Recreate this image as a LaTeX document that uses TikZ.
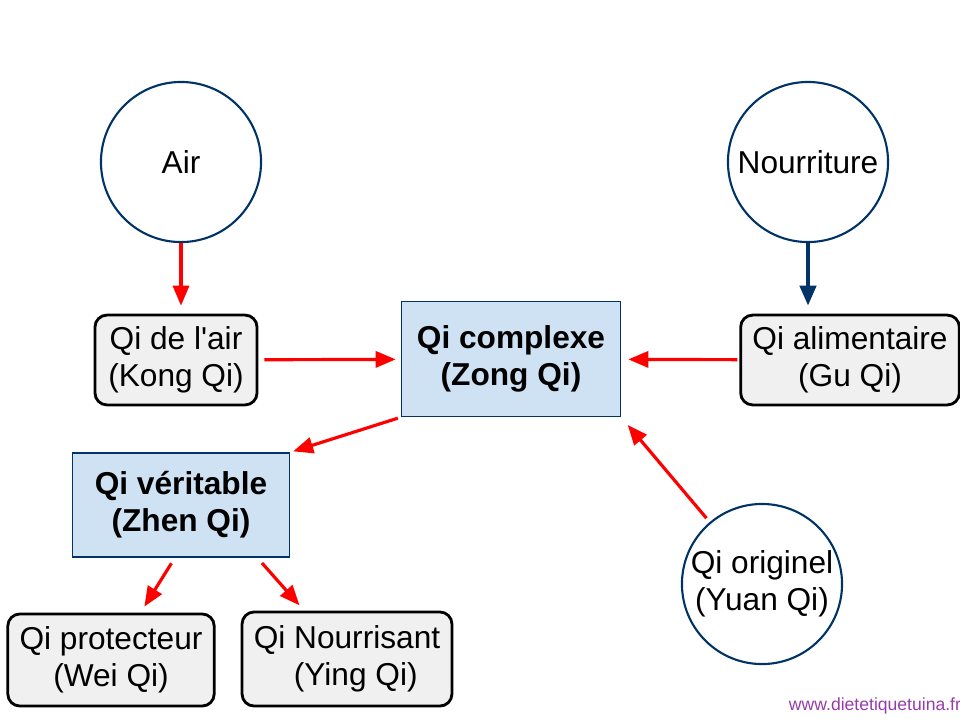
\documentclass[tikz,border=0pt]{standalone}
\usepackage{fontspec}
\setmainfont{Liberation Sans}
\usetikzlibrary{arrows.meta}
\definecolor{boxblue}{RGB}{207,226,243}
\definecolor{darkblue}{RGB}{0,51,102}
\definecolor{softgray}{RGB}{240,240,240}
\definecolor{webpurple}{RGB}{150,60,170}
\tikzstyle{source}=[circle, draw=darkblue, semithick, minimum size=1.6cm, inner sep=0pt, align=center]
\tikzstyle{qi}=[draw, thick, rounded corners=0.12cm, fill=softgray, align=center]
\tikzstyle{main}=[draw=darkblue, fill=boxblue, align=center, font=\bfseries\fontsize{9}{10.5}\selectfont]
\tikzstyle{arrow}=[-{Triangle[length=0.2cm,width=0.16cm]}, red, line width=0.9pt]
\tikzstyle{bluearrow}=[-{Triangle[length=0.2cm,width=0.16cm]}, darkblue, line width=1.2pt]

\begin{document}
\begin{tikzpicture}[x=0.01cm, y=-0.01cm, font=\fontsize{9}{10.5}\selectfont]
      \useasboundingbox (0,0) rectangle (960,720);

      \node[source] (air) at (181,162) {Air};
      \node[source] (food) at (808,162) {Nourriture};
      \node[source] (yuan) at (762,584) {Qi originel\\(Yuan Qi)};
      \node[qi, minimum width=1.62cm, minimum height=0.80cm] (kong) at (176,360) {Qi de l\textquotesingle air\\(Kong Qi)};
      \node[qi, minimum width=2.01cm, minimum height=0.81cm] (gu) at (850,360) {Qi alimentaire\\(Gu Qi)};
      \node[main, minimum width=2.19cm, minimum height=1.15cm] (zong) at (511,359) {Qi complexe\\(Zong Qi)};
      \node[main, minimum width=2.17cm, minimum height=1.04cm] (zhen) at (181,505) {Qi véritable\\(Zhen Qi)};
      \node[qi, minimum width=1.98cm, minimum height=0.92cm] (wei) at (111,660) {Qi protecteur\\(Wei Qi)};
      \node[qi, minimum width=2.05cm, minimum height=0.94cm] (ying) at (347,659) {Qi Nourrisant\\\ \ (Ying Qi)};
      \node[text=webpurple, font=\fontsize{5}{6}\selectfont] (web) at (875,706) {www.dietetiquetuina.fr};

      \draw[arrow, shorten >=0.08cm] (air) -- (air |- kong.north);
      \draw[bluearrow, shorten >=0.08cm] (food) -- (food |- gu.north);
      \draw[arrow, shorten <=0.06cm, shorten >=0.05cm] (kong) -- (zong);
      \draw[arrow, shorten <=0.02cm, shorten >=0.07cm] (gu) -- (zong);
      \draw[arrow, shorten <=0.03cm, shorten >=0.03cm] (zong.south west) -- (zhen.north east);
      \draw[arrow, shorten <=0.05cm, shorten >=0.1cm] (yuan) -- (zong.south east);
      \draw[arrow, shorten <=0.03cm, shorten >=0.07cm] (zhen.south) ++(-8,3) coordinate (z1) -- (wei);
      \draw[arrow, shorten <=0.03cm, shorten >=0.07cm] (zhen.south) ++(79,3) coordinate (z2) -- (ying);
\end{tikzpicture}
\end{document}
